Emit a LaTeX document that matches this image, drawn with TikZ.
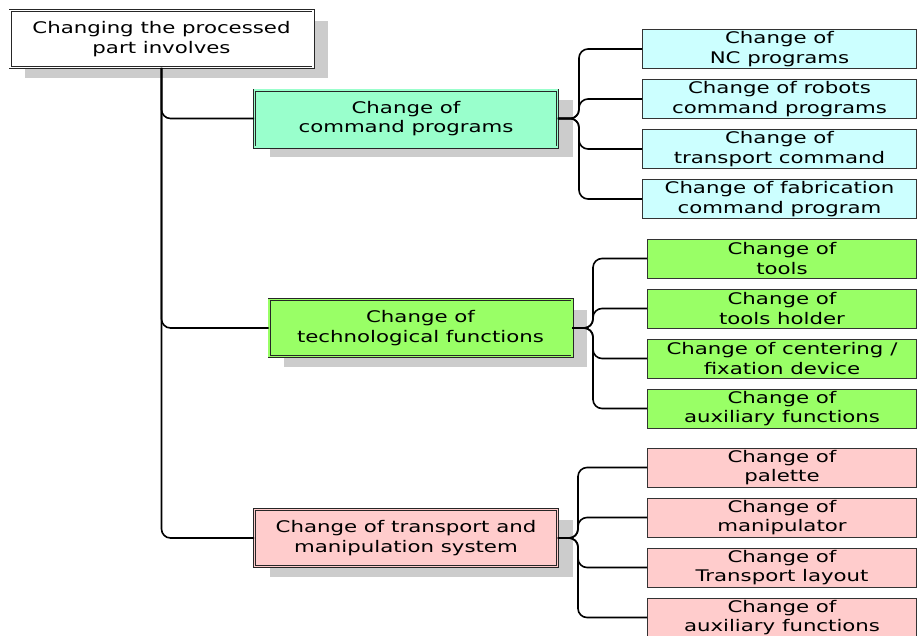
\documentclass[tikz,border=0pt]{standalone}
\usepackage{fontspec}
\setmainfont[FakeStretch=1.33]{DejaVu Sans}
\usetikzlibrary{shadows}
\definecolor{aquaf}{HTML}{99FFCC}
\definecolor{greenf}{HTML}{99FF66}
\definecolor{pinkf}{HTML}{FFCCCC}
\definecolor{cyanf}{HTML}{CCFFFF}
\begin{document}
\begin{tikzpicture}[x=1pt,y=-1pt,
  every node/.style={font=\fontsize{16}{19.5}\selectfont, align=center, inner sep=0pt},
  mainbox/.style={draw=black!85, line width=0.8pt, double=#1, double distance=1.4pt, fill=#1,
    minimum width=303pt, minimum height=57pt,
    drop shadow={shadow xshift=15pt, shadow yshift=-10pt, fill=black!20, opacity=1}},
  subbox/.style={draw=black!80, line width=1pt, fill=#1, minimum height=39pt},
  link/.style={line width=1.6pt, rounded corners=9pt}]
\useasboundingbox (0,0) rectangle (917,635);

% root
\node[mainbox=white] (root) at (161.5,39) {Changing the processed\\part involves};

% level 1
\node[mainbox=aquaf] (c1) at (406,118.5) {Change of\\command programs};
\node[mainbox=greenf] (c2) at (420.5,328) {Change of\\technological functions};
\node[mainbox=pinkf] (c3) at (406,538) {Change of transport and\\manipulation system};

% group 1 children
\begin{scope}[every node/.append style={subbox=cyanf, minimum width=274pt}]
\node (a1) at (779.5,49) {Change of\\NC programs};
\node (a2) at (779.5,99) {Change of robots\\command programs};
\node (a3) at (779.5,149) {Change of\\transport command};
\node (a4) at (779.5,199) {Change of fabrication\\command program};
\end{scope}

% group 2 children
\begin{scope}[every node/.append style={subbox=greenf, minimum width=269pt}]
\node (b1) at (782,258.5) {Change of\\tools};
\node (b2) at (782,308.5) {Change of\\tools holder};
\node (b3) at (782,358.5) {Change of centering /\\fixation device};
\node (b4) at (782,408.5) {Change of\\auxiliary functions};
\end{scope}

% group 3 children
\begin{scope}[every node/.append style={subbox=pinkf, minimum width=269pt}]
\node (d1) at (782,467.5) {Change of\\palette};
\node (d2) at (782,517.5) {Change of\\manipulator};
\node (d3) at (782,567.5) {Change of\\Transport layout};
\node (d4) at (782,617.5) {Change of\\auxiliary functions};
\end{scope}

% connectors root -> level 1
\draw[link] (root.south) |- (c1.west);
\draw[link] (root.south) |- (c2.west);
\draw[link] (root.south) |- (c3.west);

% bracket points
\coordinate (k1) at (579,118.5);
\coordinate (k2) at (593,328);
\coordinate (k3) at (578,538);

\foreach \n in {a1,a2,a3,a4} \draw[link] (c1.east) -- (k1) |- (\n.west);
\foreach \n in {b1,b2,b3,b4} \draw[link] (c2.east) -- (k2) |- (\n.west);
\foreach \n in {d1,d2,d3,d4} \draw[link] (c3.east) -- (k3) |- (\n.west);
\end{tikzpicture}
\end{document}
